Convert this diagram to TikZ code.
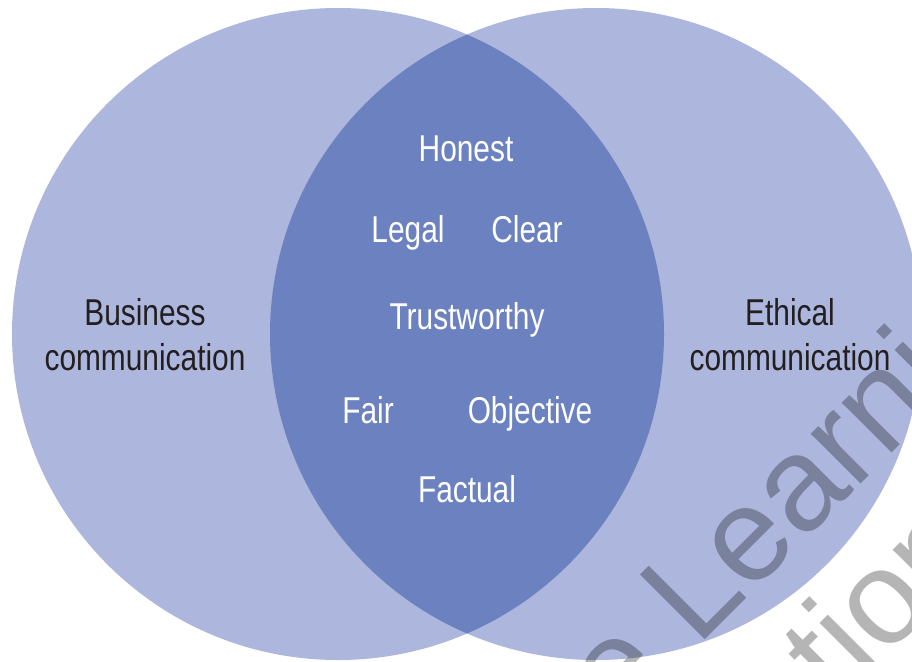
\documentclass[tikz,border=0pt]{standalone}
\usepackage{fontspec}
\usetikzlibrary{calc}
\setmainfont[FakeStretch=0.8]{Liberation Sans}
\newfontfamily\wmfont{Liberation Sans}
\definecolor{lightc}{HTML}{ADB6DC}
\definecolor{lensc}{HTML}{6C82C0}
\definecolor{darktxt}{HTML}{231F20}
\begin{document}
\begin{tikzpicture}[x=0.75pt,y=-0.75pt,
  lbl/.style={inner sep=0pt,anchor=base,font=\fontsize{28}{30}\selectfont},
  intxt/.style={lbl,text=white},
  outtxt/.style={lbl,text=darktxt,align=center},
  wm/.style={inner sep=0pt,rotate=45,text=black,text opacity=0.29,font=\wmfont\fontsize{100}{100}\selectfont}]
\useasboundingbox (0,0) rectangle (912,661);
\clip (0,0) rectangle (912,661);
\fill[white] (0,0) rectangle (912,661);
\fill[lightc] (338,334) circle[radius=326];
\fill[lightc] (596,334) circle[radius=326];
\begin{scope}
  \clip (338,334) circle[radius=326];
  \fill[lensc] (596,334) circle[radius=326];
\end{scope}
% lens words
\node[intxt] (honest) at (466,161) {Honest};
\node[intxt] (legal) at (408,242) {Legal};
\node[intxt] (clear) at (527,242) {Clear};
\node[intxt] (trust) at (467,329) {Trustworthy};
\node[intxt] (fair) at (368,423) {Fair};
\node[intxt] (obj) at (530,423) {Objective};
\node[intxt] (fact) at (467,502) {Factual};
% outer labels
\node[outtxt] (bus1) at (145,325) {Business};
\node[outtxt] (bus2) at (145,370) {communication};
\node[outtxt] (eth1) at (790,325) {Ethical};
\node[outtxt] (eth2) at (790,370) {communication};
% watermark
\coordinate (wmA) at (697,648);
\coordinate (wmS) at (671,674);
\node[wm,anchor=base west] (wmL) at (wmA) {Learning};
\node[wm,anchor=base east] (wmG) at (wmS) {ge};
\coordinate (wmB) at ($(wmA)+(140,58)$);
\node[wm,anchor=base west] (wmT) at (wmB) {tion};
\end{tikzpicture}
\end{document}
